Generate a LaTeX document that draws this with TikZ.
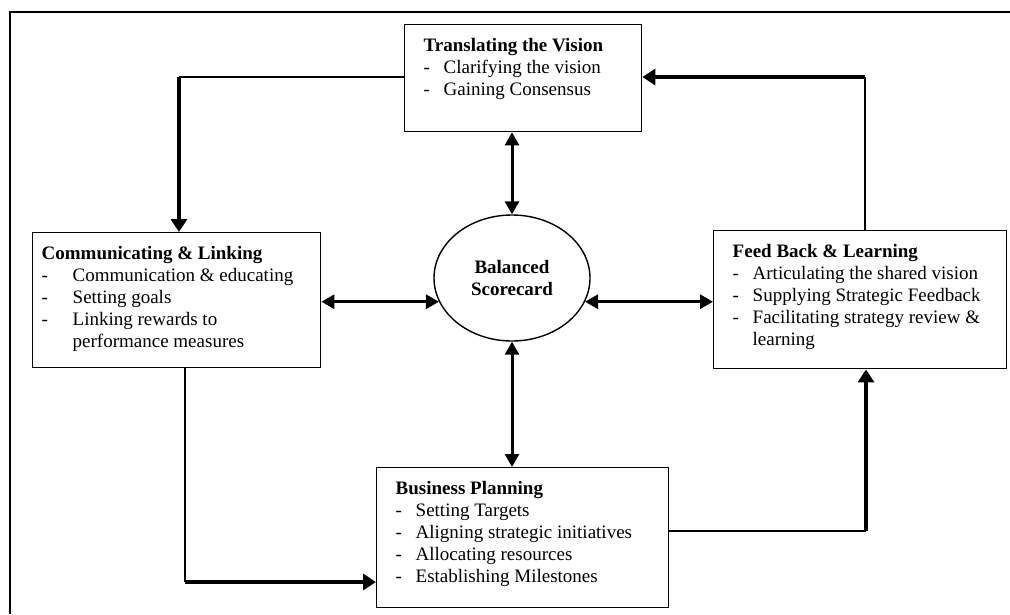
\documentclass[tikz,border=0pt]{standalone}
\usepackage{fontspec}
\setmainfont{Liberation Serif}
\usetikzlibrary{arrows.meta,shapes.geometric,positioning}

\newcommand{\itm}[2][20pt]{\makebox[#1][l]{-}#2}
\newcommand{\panelbody}[3]{\parbox[c][#2][t]{#1}{\fontsize{19}{22}\selectfont #3}}

\tikzset{
	panel/.style={draw,line width=1.4pt,anchor=north west,inner xsep=19pt,inner ysep=14pt},
	link/.style={line width=1.5pt},
	flow/.style={line width=3.5pt,-{Triangle[length=13pt,width=16pt]}},
	both/.style={line width=3pt,{Triangle[length=13pt,width=14pt]}-{Triangle[length=13pt,width=14pt]}},
}

\begin{document}
\begin{tikzpicture}[x=1pt,y=-1pt]
		\useasboundingbox (0,0) rectangle (1010,614);
		\draw[line width=2pt] (10,614) -- (10,12) -- (1010,12);
		\node[panel] (vision) at (404,24) {\panelbody{199pt}{79pt}{\textbf{Translating the Vision}\\
			\itm{Clarifying the vision}\\
			\itm{Gaining Consensus}}};
		\node[panel,inner xsep=9pt] (comm) at (32,232) {\panelbody{270pt}{107pt}{\textbf{Communicating \& Linking}\\
			\itm[31pt]{Communication \& educating}\\
			\itm[31pt]{Setting goals}\\
			\itm[31pt]{Linking rewards to}\\
			\hspace*{31pt}performance measures}};
		\node[panel] (feedback) at (713,230) {\panelbody{255pt}{110pt}{\textbf{Feed Back \& Learning}\\
			\itm{Articulating the shared vision}\\
			\itm{Supplying Strategic Feedback}\\
			\itm{Facilitating strategy review \&}\\
			\hspace*{20pt}learning}};
		\node[panel] (planning) at (376,467) {\panelbody{254pt}{112pt}{\textbf{Business Planning}\\
			\itm{Setting Targets}\\
			\itm{Aligning strategic initiatives}\\
			\itm{Allocating resources}\\
			\itm{Establishing Milestones}}};
		\node[ellipse,draw,line width=1.4pt,minimum width=156pt,minimum height=126pt,inner sep=0pt,align=center,font=\fontsize{19}{22}\selectfont\bfseries] (bsc) at (512,278) {Balanced\\Scorecard};
		\coordinate (nw) at (179,77);
		\coordinate (ne) at (865,77);
		\coordinate (sw) at (185,582);
		\coordinate (se) at (866,531);
		\draw[link] (nw -| vision.west) -- (nw);
		\draw[flow] (nw) -- (nw |- comm.north);
		\draw[link] (ne |- feedback.north) -- (ne);
		\draw[flow] (ne) -- (ne -| vision.east);
		\draw[link] (sw |- comm.south) -- (sw);
		\draw[flow] (sw) -- (sw -| planning.west);
		\draw[link] (se -| planning.east) -- (se);
		\draw[flow] (se) -- (se |- feedback.south);
		\draw[both] (bsc.north) -- (bsc.north |- vision.south);
		\draw[both] (bsc.south) -- (bsc.south |- planning.north);
		\draw[both] (bsc.198) -- (bsc.198 -| comm.east);
		\draw[both] (bsc.-18) -- (bsc.-18 -| feedback.west);
	\end{tikzpicture}
\end{document}
